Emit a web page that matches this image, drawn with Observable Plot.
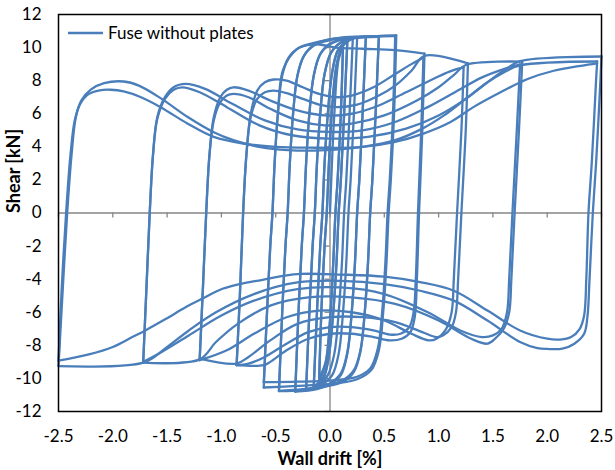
<!DOCTYPE html>
<html>
<head>
<meta charset="utf-8">
<script src="https://cdn.jsdelivr.net/npm/d3@7"></script>
<script src="https://cdn.jsdelivr.net/npm/@observablehq/plot@0.6"></script>
<style>
  html, body { margin: 0; padding: 0; background: #fff; }
  #chart { width: 615px; height: 470px; }
</style>
</head>
<body>
<div id="chart"></div>
<script>
// Cyclic test of the fuse: wall drift [%] vs. shear [kN].
// Each amplitude is a list of branches; a branch is a list of [drift, shear] readings.

const cycle010 = [
  [[0, 0], [0.04, 6], [0.08, 9.3], [0.12, 10.0]],
  [[0.12, 10.0], [0.1, 6], [0.07, 2], [0.05, 0], [0.03, -3], [0.0, -6.5], [-0.04, -9.0], [-0.1, -10.0]],
  [[-0.1, -10.0], [-0.08, -6], [-0.05, -2], [-0.03, 0], [-0.01, 3], [0.02, 6.5], [0.06, 9.0], [0.12, 10.2]],
  [[0.12, 10.2], [0.1, 6], [0.07, 2], [0.05, 0], [0.03, -3], [0.0, -6.5], [-0.04, -9.1], [-0.1, -10.2]]
];

const cycle015 = [
  [[-0.1, -10.2], [-0.08, -6], [-0.05, -2], [-0.03, 0], [-0.01, 3], [0.02, 6.3], [0.06, 8.8], [0.1, 9.9], [0.16, 10.4]],
  [[0.16, 10.4], [0.13, 6], [0.1, 2], [0.08, 0], [0.06, -3], [0.03, -6], [-0.01, -8.6], [-0.06, -9.9], [-0.15, -10.5]],
  [[-0.15, -10.5], [-0.12, -6], [-0.09, -2], [-0.07, 0], [-0.05, 3], [-0.02, 6], [0.02, 8.5], [0.07, 9.8], [0.16, 10.5]],
  [[0.16, 10.5], [0.13, 6], [0.1, 2], [0.08, 0], [0.06, -3], [0.03, -6], [-0.01, -8.6], [-0.06, -10.0], [-0.15, -10.6]]
];

const cycle020 = [
  [[-0.15, -10.6], [-0.12, -6], [-0.09, -2], [-0.07, 0], [-0.05, 3], [-0.02, 6], [0.02, 8.5], [0.08, 9.9], [0.21, 10.55]],
  [[0.21, 10.55], [0.18, 6], [0.15, 2], [0.13, 0], [0.11, -3], [0.08, -6], [0.04, -8.5], [-0.02, -9.8], [-0.1, -10.4], [-0.22, -10.67]],
  [[-0.22, -10.67], [-0.19, -6], [-0.16, -2], [-0.14, 0], [-0.12, 3], [-0.09, 6], [-0.05, 8.4], [0.01, 9.7], [0.1, 10.3], [0.25, 10.6]],
  [[0.25, 10.6], [0.22, 6], [0.19, 2], [0.17, 0], [0.15, -3], [0.12, -6], [0.08, -8.5], [0.02, -9.8], [-0.08, -10.4], [-0.22, -10.7]]
];

const cycle030 = [
  [[-0.22, -10.7], [-0.19, -6], [-0.16, -2], [-0.14, 0], [-0.12, 3], [-0.09, 6], [-0.05, 8.4], [0.01, 9.7], [0.12, 10.4], [0.33, 10.65]],
  [[0.33, 10.65], [0.3, 6], [0.27, 2], [0.25, 0], [0.23, -3], [0.2, -6], [0.16, -8.4], [0.1, -9.7], [0.0, -10.3], [-0.12, -10.6], [-0.32, -10.77]],
  [[-0.32, -10.77], [-0.29, -6], [-0.26, -2], [-0.24, 0], [-0.22, 3], [-0.19, 6], [-0.15, 8.3], [-0.09, 9.6], [0.0, 10.2], [0.12, 10.5], [0.33, 10.65]],
  [[0.33, 10.65], [0.3, 6], [0.27, 2], [0.25, 0], [0.23, -3], [0.2, -6], [0.16, -8.5], [0.1, -9.8], [0.0, -10.35], [-0.12, -10.65], [-0.32, -10.8]]
];

const cycle045 = [
  [[-0.32, -10.8], [-0.29, -6], [-0.26, -2], [-0.24, 0], [-0.22, 3], [-0.19, 6], [-0.15, 8.3], [-0.09, 9.6], [0.0, 10.25], [0.15, 10.55], [0.45, 10.68]],
  [[0.45, 10.68], [0.42, 6], [0.39, 2], [0.37, 0], [0.35, -3], [0.32, -6], [0.28, -8.4], [0.22, -9.6], [0.12, -10.2], [-0.05, -10.5], [-0.25, -10.7], [-0.47, -10.77]],
  [[-0.47, -10.77], [-0.44, -6], [-0.41, -2], [-0.39, 0], [-0.37, 3], [-0.34, 6], [-0.3, 8.3], [-0.24, 9.5], [-0.14, 10.15], [0.0, 10.45], [0.2, 10.6], [0.45, 10.65]],
  [[0.45, 10.65], [0.42, 6], [0.39, 2], [0.37, 0], [0.35, -3], [0.32, -6], [0.28, -8.3], [0.22, -9.5], [0.12, -10.1], [-0.05, -10.45], [-0.25, -10.65], [-0.47, -10.75]]
];

const cycle060 = [
  [[-0.47, -10.75], [-0.44, -6], [-0.41, -2], [-0.39, 0], [-0.37, 3], [-0.34, 6], [-0.3, 8.3], [-0.24, 9.5], [-0.14, 10.2], [0.0, 10.5], [0.3, 10.65], [0.61, 10.73]],
  [[0.61, 10.73], [0.59, 6], [0.56, 2], [0.54, 0], [0.52, -3], [0.49, -6], [0.45, -8.3], [0.38, -9.5], [0.25, -10.05], [0.05, -10.3], [-0.3, -10.45], [-0.61, -10.55]],
  [[-0.61, -10.55], [-0.58, -6], [-0.55, -2], [-0.53, 0], [-0.51, 3], [-0.48, 6], [-0.43, 8.7], [-0.3, 9.93], [-0.12, 10.33], [0.1, 10.6], [0.6, 10.7]],
  [[0.6, 10.7], [0.58, 6], [0.55, 2], [0.53, 0], [0.51, -3], [0.48, -6], [0.44, -8.2], [0.37, -9.4], [0.25, -9.9], [0.05, -10.1], [-0.3, -10.2], [-0.61, -10.23]]
];

const cycle087 = [
  [[-0.61, -10.23], [-0.58, -6], [-0.55, -2], [-0.53, 0], [-0.51, 3], [-0.48, 6], [-0.44, 8.3], [-0.38, 9.4], [-0.28, 10.0], [-0.12, 10.2], [0.05, 10.0], [0.3, 9.93], [0.6, 9.85], [0.87, 9.64]],
  [[0.87, 9.64], [0.85, 5], [0.82, 0], [0.8, -4], [0.78, -6.3], [0.74, -7.2], [0.66, -7.6], [0.55, -7.7], [0.4, -7.5], [0.2, -7.3], [0.0, -7.3], [-0.2, -7.6], [-0.4, -8.3], [-0.55, -9.0], [-0.61, -9.2], [-0.86, -9.2]],
  [[-0.86, -9.2], [-0.83, -5], [-0.8, 0], [-0.77, 3.5], [-0.73, 6], [-0.67, 7.4], [-0.6, 7.9], [-0.52, 8.07], [-0.4, 8.0], [-0.25, 7.6], [-0.1, 7.2], [0.05, 7.0], [0.2, 7.1], [0.4, 7.6], [0.6, 8.4], [0.75, 9.0], [0.86, 9.4]],
  [[0.86, 9.4], [0.84, 5], [0.81, 0], [0.79, -4], [0.77, -6], [0.73, -6.9], [0.65, -7.3], [0.55, -7.35], [0.4, -7.1], [0.2, -6.9], [0.0, -6.9], [-0.2, -7.2], [-0.4, -7.9], [-0.6, -8.7], [-0.75, -9.1], [-0.86, -9.2]]
];

const cycle125 = [
  [[-0.86, -9.2], [-0.83, -5], [-0.8, 0], [-0.77, 3.5], [-0.73, 5.8], [-0.67, 6.9], [-0.6, 7.3], [-0.52, 7.4], [-0.4, 7.25], [-0.25, 6.9], [-0.1, 6.55], [0.05, 6.4], [0.25, 6.55], [0.45, 7.1], [0.6, 7.7], [0.75, 8.6], [0.87, 9.5], [1.27, 9.05]],
  [[1.27, 9.05], [1.25, 5], [1.21, 0], [1.18, -4], [1.16, -6], [1.12, -6.9], [1.04, -7.4], [0.98, -7.5], [0.85, -7.2], [0.6, -6.6], [0.3, -6.3], [0.0, -6.3], [-0.3, -6.7], [-0.55, -7.7], [-0.75, -8.7], [-0.86, -9.1], [-1.2, -8.8]],
  [[-1.2, -8.8], [-1.17, -4.5], [-1.14, 0], [-1.11, 3.5], [-1.07, 5.8], [-1.01, 7.0], [-0.95, 7.45], [-0.89, 7.6], [-0.75, 7.4], [-0.55, 6.8], [-0.3, 6.2], [-0.05, 5.9], [0.2, 6.0], [0.45, 6.5], [0.7, 7.3], [0.95, 8.1], [1.1, 8.55], [1.23, 8.8]],
  [[1.23, 8.8], [1.21, 5], [1.17, 0], [1.14, -4], [1.12, -6], [1.07, -7.0], [0.98, -7.6], [0.91, -7.7], [0.75, -7.3], [0.5, -6.5], [0.2, -6.0], [-0.1, -5.9], [-0.4, -6.3], [-0.7, -7.3], [-0.95, -8.3], [-1.2, -8.9]]
];

const cycle175 = [
  [[-1.2, -8.9], [-1.17, -4.5], [-1.14, 0], [-1.11, 3.5], [-1.07, 5.6], [-1.01, 6.7], [-0.95, 7.1], [-0.89, 7.2], [-0.75, 7.0], [-0.55, 6.3], [-0.3, 5.6], [-0.05, 5.3], [0.2, 5.4], [0.5, 5.9], [0.8, 6.8], [1.0, 7.6], [1.15, 8.4], [1.25, 8.95], [1.77, 9.15]],
  [[1.77, 9.15], [1.74, 5], [1.7, 0], [1.67, -4], [1.65, -6], [1.6, -7.0], [1.52, -7.6], [1.45, -7.9], [1.3, -7.6], [1.0, -6.5], [0.6, -5.5], [0.2, -5.1], [-0.2, -5.1], [-0.55, -5.6], [-0.85, -6.7], [-1.05, -7.8], [-1.2, -8.85], [-1.72, -9.05]],
  [[-1.72, -9.05], [-1.69, -4.5], [-1.66, 0], [-1.63, 3.5], [-1.59, 5.8], [-1.52, 7.0], [-1.44, 7.6], [-1.33, 7.8], [-1.15, 7.5], [-0.9, 6.6], [-0.6, 5.6], [-0.3, 5.05], [0.0, 4.9], [0.3, 5.0], [0.6, 5.5], [0.9, 6.4], [1.15, 7.3], [1.4, 8.2], [1.6, 8.7], [1.75, 8.98]],
  [[1.75, 8.98], [1.72, 5], [1.68, 0], [1.65, -4], [1.63, -6], [1.58, -7.0], [1.5, -7.4], [1.4, -7.5], [1.2, -7.1], [0.9, -6.0], [0.5, -4.9], [0.1, -4.5], [-0.3, -4.6], [-0.7, -5.3], [-1.0, -6.2], [-1.3, -7.4], [-1.55, -8.4], [-1.72, -9.0]]
];

const cycle250 = [
  [[-1.72, -9.0], [-1.69, -4.5], [-1.66, 0], [-1.63, 3.5], [-1.59, 5.7], [-1.52, 6.9], [-1.44, 7.45], [-1.36, 7.6], [-1.2, 7.3], [-0.95, 6.4], [-0.65, 5.3], [-0.35, 4.7], [0.0, 4.5], [0.35, 4.6], [0.7, 5.1], [1.0, 5.9], [1.25, 6.9], [1.45, 7.9], [1.62, 8.7], [1.75, 9.18], [2.5, 9.46]],
  [[2.5, 9.46], [2.49, 8], [2.45, 3], [2.42, 0], [2.39, -4], [2.37, -6.3], [2.34, -7.3], [2.25, -7.9], [2.14, -8.2], [2.0, -8.22], [1.91, -8.17], [1.75, -7.8], [1.45, -6.5], [1.14, -5.3], [0.83, -4.7], [0.5, -4.3], [0.1, -4.1], [-0.3, -4.2], [-0.7, -4.9], [-1.05, -6.0], [-1.3, -7.1], [-1.52, -8.2], [-1.72, -9.05], [-2.5, -9.26]],
  [[-2.5, -9.26], [-2.46, -4.5], [-2.42, 0], [-2.38, 3.5], [-2.34, 5.8], [-2.29, 6.8], [-2.2, 7.47], [-2.08, 7.85], [-1.9, 7.95], [-1.76, 7.7], [-1.55, 6.9], [-1.31, 5.8], [-1.07, 4.88], [-0.89, 4.4], [-0.64, 3.98], [-0.39, 3.8], [-0.09, 3.78], [0.3, 4.0], [0.6, 4.4], [0.85, 5.1], [1.05, 5.9], [1.25, 6.9], [1.45, 7.9], [1.6, 8.5], [1.75, 8.92], [2.46, 9.16]],
  [[2.46, 9.16], [2.45, 8], [2.41, 3], [2.38, 0], [2.36, -4], [2.34, -6.2], [2.3, -7.0], [2.22, -7.5], [2.12, -7.65], [2.0, -7.6], [1.75, -7.1], [1.45, -5.9], [1.14, -4.7], [0.83, -4.18], [0.5, -3.85], [0.1, -3.72], [-0.27, -3.68], [-0.43, -3.8], [-0.69, -4.12], [-0.78, -4.22], [-0.99, -4.58], [-1.18, -5.19], [-1.33, -5.7], [-1.51, -6.4], [-1.7, -7.1], [-1.82, -7.5], [-2.0, -8.1], [-2.22, -8.55], [-2.5, -8.93]],
  [[-2.5, -8.93], [-2.47, -4.5], [-2.43, 0], [-2.39, 3.5], [-2.35, 5.6], [-2.3, 6.6], [-2.22, 7.2], [-2.12, 7.42], [-2.02, 7.45], [-1.9, 7.35], [-1.74, 7.0], [-1.56, 6.4], [-1.31, 5.4], [-1.07, 4.6], [-0.8, 4.2], [-0.5, 4.0], [-0.2, 3.95], [0.28, 3.98], [0.59, 4.28], [0.86, 4.8], [1.11, 5.5], [1.32, 6.4], [1.57, 7.3], [1.82, 8.1], [2.06, 8.6], [2.31, 8.9], [2.46, 9.05]]
];

const xTicks = [-2.5, -2.0, -1.5, -1.0, -0.5, 0.0, 0.5, 1.0, 1.5, 2.0, 2.5];
const yTicks = [-12, -10, -8, -6, -4, -2, 0, 2, 4, 6, 8, 10, 12];
const xTitle = "Wall drift [%]";
const yTitle = "Shear [kN]";
const seriesName = "Fuse without plates";
const seriesColor = "#4a7ebb";

const cycles = [cycle010, cycle015, cycle020, cycle030, cycle045, cycle060, cycle087, cycle125, cycle175, cycle250];
const rows = cycles.flat().flatMap((branch, i) => branch.map(([drift, shear]) => ({drift, shear, branch: i})));

const axisGrey = "#868686";
const fontStack = "Lato, 'Open Sans', sans-serif";

const chart = Plot.plot({
  width: 615,
  height: 470,
  marginLeft: 58,
  marginRight: 14,
  marginTop: 14,
  marginBottom: 59,
  style: {fontFamily: fontStack, fontSize: "17px", color: "#000", background: "#fff"},
  x: {domain: [-2.5, 2.5]},
  y: {domain: [-12, 12]},
  marks: [
    // axes crossing at the origin, with outside tick marks
    Plot.ruleY([0], {stroke: axisGrey, strokeWidth: 1.3}),
    Plot.ruleX([0], {stroke: axisGrey, strokeWidth: 1.3}),
    Plot.ruleX(xTicks, {x: d => d, y1: () => 0, y2: () => 0, insetBottom: -5, stroke: axisGrey, strokeWidth: 1.3}),
    Plot.ruleY(yTicks, {y: d => d, x1: () => 0, x2: () => 0, insetLeft: -5, stroke: axisGrey, strokeWidth: 1.3}),
    // hysteresis curve
    Plot.line(rows, {
      x: "drift", y: "shear", z: "branch",
      stroke: seriesColor, strokeWidth: 2.3,
      curve: "catmull-rom", strokeLinejoin: "round", strokeLinecap: "round"
    }),
    Plot.axisX(xTicks, {anchor: "bottom", tickSize: 0, tickPadding: 18, tickFormat: d => d.toFixed(1), label: null, fill: "#000", fontSize: 17}),
    Plot.axisY(yTicks, {anchor: "left", tickSize: 0, tickPadding: 17, tickFormat: d => String(d), label: null, fill: "#000", fontSize: 17}),
    Plot.frame({stroke: "#000", strokeWidth: 1.5}),
    Plot.text([xTitle], {text: d => d, frameAnchor: "bottom", dy: 53, fontWeight: "bold", fontSize: 18, fill: "#000"}),
    Plot.text([yTitle], {text: d => d, frameAnchor: "left", dx: -44, rotate: -90, fontWeight: "bold", fontSize: 18, fill: "#000"})
  ]
});

// legend in the upper-left corner of the plot area
const legend = d3.select(chart).append("g").attr("text-anchor", "start");
legend.append("path")
  .attr("d", "M68,33H103")
  .attr("fill", "none")
  .style("stroke", seriesColor)
  .style("stroke-width", "2.3px");
legend.append("text")
  .attr("x", 108).attr("y", 33).attr("dy", "0.35em")
  .style("fill", "#000").style("font-size", "17px").style("font-family", fontStack)
  .text(seriesName);

document.getElementById("chart").appendChild(chart);
</script>
</body>
</html>
